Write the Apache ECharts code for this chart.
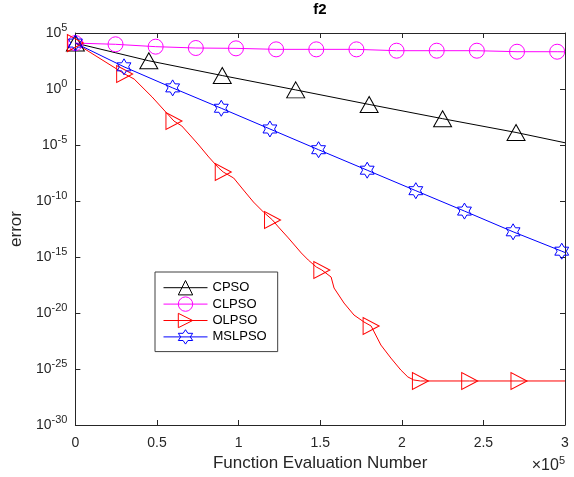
<!DOCTYPE html>
<html><head><meta charset="utf-8">
<script src="https://cdn.jsdelivr.net/npm/echarts@6/dist/echarts.min.js"></script>
<style>html,body{margin:0;padding:0;background:#fff;} #c{width:574px;height:477px;}</style>
</head><body><div id="c"></div>
<script>
const chartTitle = 'f2';
const xName = 'Function Evaluation Number';
const yName = 'error';
const seriesNames = ['CPSO', 'CLPSO', 'OLPSO', 'MSLPSO'];
const xTicks = [0, 50000, 100000, 150000, 200000, 250000, 300000];
const yTickExps = [-30, -25, -20, -15, -10, -5, 0, 5];

// log10(error)
const cpsoX = [0, 45000, 90000, 135000, 180000, 225000, 270000, 300000];
const cpsoLog = [4.1, 2.52, 1.2, -0.08, -1.38, -2.65, -3.88, -4.8];
const cpsoMark = [1, 1, 1, 1, 1, 1, 1, 0];

const clpsoX = [0, 24600, 49200, 73800, 98400, 123000, 147600, 172200, 196800, 221400, 246000, 270600, 295200, 300000];
const clpsoLog = [4.1, 3.99, 3.78, 3.66, 3.63, 3.54, 3.54, 3.54, 3.42, 3.42, 3.42, 3.33, 3.33, 3.32];
const clpsoMark = [1, 1, 1, 1, 1, 1, 1, 1, 1, 1, 1, 1, 1, 0];

const olpsoX = [0, 30200, 36000, 47000, 60400, 65200, 71300, 75600, 81700, 87800, 90600, 97000, 103000, 109100, 115200, 120800, 124400, 130500, 138400, 142700, 147600, 151000, 156700, 158500, 164600, 170700, 176800, 181200, 187200, 193300, 199400, 203700, 207300, 211400, 241600, 271800, 300000];
const olpsoLog = [4.1, 1.34, 0.89, -0.71, -2.86, -3.3, -4.29, -5.0, -6.07, -7.05, -7.41, -7.95, -9.02, -10.09, -10.98, -11.7, -12.32, -13.3, -14.64, -15.27, -15.89, -16.16, -16.79, -17.77, -19.11, -20.18, -20.8, -21.16, -22.86, -24.02, -25.09, -25.71, -25.98, -26.07, -26.07, -26.07, -26.07];
const olpsoMark = [1, 1, 0, 0, 1, 0, 0, 0, 0, 0, 1, 0, 0, 0, 0, 1, 0, 0, 0, 0, 0, 1, 0, 0, 0, 0, 0, 1, 0, 0, 0, 0, 0, 1, 1, 1, 0];

const mslpsoX = [0, 29800, 59600, 89400, 119200, 149000, 178800, 208600, 238400, 268200, 298000, 300000];
const mslpsoLog = [4.1, 1.98, 0.1, -1.72, -3.57, -5.42, -7.25, -9.08, -10.9, -12.75, -14.48, -14.6];
const mslpsoMark = [1, 1, 1, 1, 1, 1, 1, 1, 1, 1, 1, 0];

const FONT = '"Liberation Sans", Arial, Helvetica, sans-serif';
const AX = '#262626';
const hexagram = 'path://M50,0L64.43,25L93.3,25L78.87,50L93.3,75L64.43,75L50,100L35.57,75L6.7,75L21.13,50L6.7,25L35.57,25Z';

function build(xs, logs, marks) {
  return xs.map((x, i) => {
    const d = { value: [x, logs[i]] };
    if (!marks[i]) d.symbol = 'none';
    return d;
  });
}
function mkSeries(name, color, symbol, size, rotate, data, keep) {
  return {
    name: name, type: 'line', data: data,
    symbol: symbol, symbolSize: size, symbolRotate: rotate, symbolKeepAspect: !!keep,
    showSymbol: true, showAllSymbol: true,
    lineStyle: { color: color, width: 1 },
    itemStyle: { color: 'rgba(0,0,0,0)', borderColor: color, borderWidth: 1 },
    emphasis: { disabled: true },
    clip: true, z: 3
  };
}

const yMin = yTickExps[0], yMax = yTickExps[yTickExps.length - 1];
const yLabel = {
  show: true, margin: 8, color: AX, fontFamily: FONT,
  formatter: v => '{b|10}{s|' + v + '}',
  rich: {
    b: { fontSize: 14, lineHeight: 14, verticalAlign: 'bottom', color: AX, fontFamily: FONT },
    s: { fontSize: 11, lineHeight: 11, padding: [0, 0, 7, 0], verticalAlign: 'bottom', color: AX, fontFamily: FONT }
  }
};
const axLine = { show: true, onZero: false, lineStyle: { color: AX, width: 1 } };
const axTick = { show: true, inside: true, length: 5, lineStyle: { color: AX, width: 1 } };

const chart = echarts.init(document.getElementById('c'), null, { renderer: 'canvas' });
chart.setOption({
  animation: false,
  backgroundColor: '#fff',
  title: { text: chartTitle, left: 320, top: 2, padding: 0, textAlign: 'center',
    textStyle: { fontSize: 15, fontWeight: 'bold', color: '#000', fontFamily: FONT } },
  grid: { left: 73, right: 9, top: 33, bottom: 52, containLabel: false },
  legend: {
    orient: 'vertical', left: 155, top: 272, padding: [8, 11, 7, 8],
    itemWidth: 44, itemHeight: 18, itemGap: 1,
    borderColor: '#404040', borderWidth: 1, backgroundColor: '#fff', borderRadius: 0,
    textStyle: { fontSize: 13, color: '#000', fontFamily: FONT },
    lineStyle: { width: 1 },
    itemStyle: { borderWidth: 1 },
    data: seriesNames, selectedMode: false
  },
  xAxis: [{
    type: 'value', min: xTicks[0], max: xTicks[xTicks.length - 1], interval: 50000,
    name: xName, nameLocation: 'middle', nameGap: 30,
    nameTextStyle: { fontSize: 17, color: AX, fontFamily: FONT },
    axisLine: axLine, axisTick: axTick, splitLine: { show: false },
    axisLabel: { margin: 11, fontSize: 14, color: AX, fontFamily: FONT, formatter: v => String(v / 100000) }
  }, {
    type: 'value', position: 'top', min: xTicks[0], max: xTicks[xTicks.length - 1], interval: 50000,
    axisLine: axLine, axisTick: axTick, splitLine: { show: false }, axisLabel: { show: false }
  }],
  yAxis: [{
    type: 'value', min: yMin, max: yMax, interval: 5,
    name: yName, nameLocation: 'middle', nameGap: 42,
    nameTextStyle: { fontSize: 17, color: AX, fontFamily: FONT },
    axisLine: axLine, axisTick: axTick, splitLine: { show: false },
    axisLabel: yLabel
  }, {
    type: 'value', min: yMin, max: yMax, interval: 5, position: 'right',
    axisLine: axLine, axisTick: axTick, splitLine: { show: false }, axisLabel: { show: false }
  }],
  graphic: [{
    type: 'text', right: 9, top: 455,
    style: {
      text: '{b|\u00d710}{s|5}', fill: AX,
      rich: {
        b: { fontSize: 16, lineHeight: 16, verticalAlign: 'bottom', fill: AX, fontFamily: FONT },
        s: { fontSize: 11, lineHeight: 11, padding: [0, 0, 8, 0], verticalAlign: 'bottom', fill: AX, fontFamily: FONT }
      }
    }
  }],
  series: [
    mkSeries('CPSO', '#000000', 'triangle', [18, 16], 0, build(cpsoX, cpsoLog, cpsoMark)),
    mkSeries('CLPSO', '#FF00FF', 'circle', 15, 0, build(clpsoX, clpsoLog, clpsoMark)),
    mkSeries('OLPSO', '#FF0000', 'triangle', [17, 16], -90, build(olpsoX, olpsoLog, olpsoMark)),
    mkSeries('MSLPSO', '#0000FF', hexagram, 16, 0, build(mslpsoX, mslpsoLog, mslpsoMark), true)
  ]
});
</script>
</body></html>
